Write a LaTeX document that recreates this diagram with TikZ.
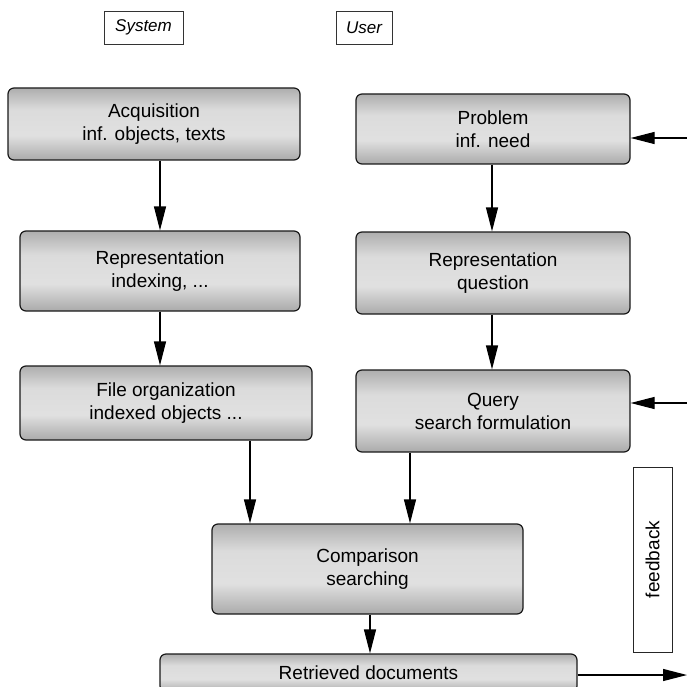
\documentclass[tikz,border=0pt]{standalone}
\usepackage{fontspec}
\setmainfont{Liberation Sans}
\usetikzlibrary{arrows.meta}
% vertical grey band: dark at the rims, light across the middle
\pgfdeclareverticalshading{procshade}{100bp}{%
  color(0bp)=(black!70);
  color(18bp)=(black!42);
  color(42bp)=(black!12);
  color(60bp)=(black!14);
  color(82bp)=(black!40);
  color(100bp)=(black!66)}
\begin{document}
\begin{tikzpicture}[x=1pt,y=-1pt,
  procbox/.style={draw=black!90, line width=1.2pt, rounded corners=6pt,
    shading=procshade, align=center, inner sep=0pt,
    font=\fontsize{19}{23}\selectfont},
  titlebox/.style={draw=black!80, line width=0.8pt, inner sep=0pt,
    font=\fontsize{17}{20}\selectfont\itshape},
  arr/.style={line width=1.2pt, draw=black,
    -{Triangle[length=24pt,width=12pt]}}]
\useasboundingbox (0,0) rectangle (687,687);
\clip (0,0) rectangle (687,687);

% column headings
\node[titlebox, minimum width=79pt, minimum height=33pt] (sys) at (143.5,27.5) {System};
\node[titlebox, minimum width=56pt, minimum height=33pt] (usr) at (364,27.5) {User};

% system side
\node[procbox, minimum width=292pt, minimum height=72pt] (acq) at (154,124)
  {Acquisition\\inf. objects, texts};
\node[procbox, minimum width=280pt, minimum height=80pt] (repl) at (160,271)
  {Representation\\indexing, ...};
\node[procbox, minimum width=292pt, minimum height=74pt] (file) at (166,403)
  {File organization\\indexed objects ...};

% user side
\node[procbox, minimum width=274pt, minimum height=70pt] (prob) at (493,129)
  {Problem\\inf. need};
\node[procbox, minimum width=274pt, minimum height=82pt] (repr) at (493,273)
  {Representation\\question};
\node[procbox, minimum width=274pt, minimum height=82pt] (qry) at (493,411)
  {Query\\search formulation};

% matching and result
\node[procbox, minimum width=311pt, minimum height=90pt] (cmp) at (367.5,569)
  {Comparison\\searching};
\node[procbox, minimum width=417pt, minimum height=38pt] (ret) at (368.5,673)
  {Retrieved documents};

% feedback label
\node[draw=black!85, line width=1pt, minimum width=39pt, minimum height=185pt,
  inner sep=0pt] (fbk) at (652.5,559.5) {};
\node[rotate=90, font=\fontsize{19}{22}\selectfont] (fbt) at (fbk.center) {feedback};

% helper coordinates for the connector lines
\coordinate (cl) at (160,0);
\coordinate (cr) at (492,0);
\coordinate (cf) at (250,0);
\coordinate (cq) at (410,0);
\coordinate (cc) at (370,0);
\coordinate (fb1) at (687,138);
\coordinate (fb2) at (687,403);
\coordinate (out) at (687,675);

% connectors
\draw[arr] (acq.south -| cl) -- (repl.north -| cl);
\draw[arr] (repl.south -| cl) -- (file.north -| cl);
\draw[arr] (prob.south -| cr) -- (repr.north -| cr);
\draw[arr] (repr.south -| cr) -- (qry.north -| cr);
\draw[arr] (file.south -| cf) -- (cmp.north -| cf);
\draw[arr] (qry.south -| cq) -- (cmp.north -| cq);
\draw[arr] (cmp.south -| cc) -- (ret.north -| cc);
\draw[arr] (fb1) -- (prob.east |- fb1);
\draw[arr] (fb2) -- (qry.east |- fb2);
\draw[arr] (ret.east |- out) -- (out);
\end{tikzpicture}
\end{document}
